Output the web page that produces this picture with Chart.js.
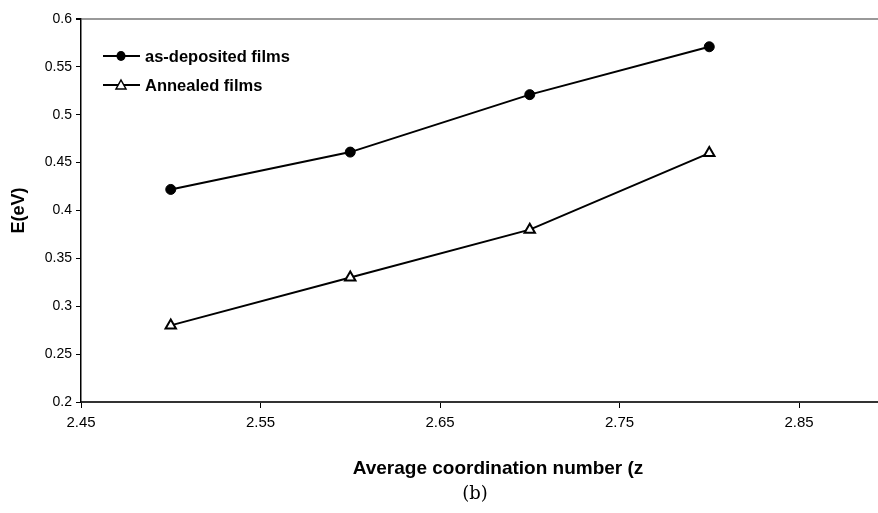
<!DOCTYPE html>
<html>
<head>
<meta charset="utf-8">
<script src="https://cdn.jsdelivr.net/npm/chart.js@4"></script>
<style>
html,body{margin:0;padding:0;background:#fff;}
#wrap{width:878px;height:513px;position:relative;}
</style>
</head>
<body>
<div id="wrap"><canvas id="c" width="878" height="513"></canvas></div>
<script>
const zValues = [2.5, 2.6, 2.7, 2.8];
const asDeposited = [0.422, 0.461, 0.521, 0.571];
const annealed = [0.28, 0.33, 0.38, 0.46];
const xTicks = [2.45, 2.55, 2.65, 2.75, 2.85];
const yTicks = [0.2, 0.25, 0.3, 0.35, 0.4, 0.45, 0.5, 0.55, 0.6];
const seriesNames = ['as-deposited films', 'Annealed films'];
const xTitle = 'Average coordination number (z';
const yTitle = 'E(eV)';
const caption = '(b)';

const toPts = (xs, ys) => xs.map((x, i) => ({x: x, y: ys[i]}));

const extraText = {
  id: 'extraText',
  afterDraw(chart) {
    const ctx = chart.ctx;
    ctx.save();
    const items = [
      {label: seriesNames[0], ds: chart.data.datasets[0], y: 56},
      {label: seriesNames[1], ds: chart.data.datasets[1], y: 85}
    ];
    items.forEach(it => {
      ctx.strokeStyle = '#000';
      ctx.lineWidth = 2;
      ctx.beginPath();
      ctx.moveTo(103, it.y);
      ctx.lineTo(140, it.y);
      ctx.stroke();
      ctx.lineWidth = 1.5;
      if (it.ds.pointStyle === 'circle') {
        ctx.fillStyle = '#000';
        ctx.beginPath();
        ctx.ellipse(121, it.y, 4.5, 5, 0, 0, Math.PI * 2);
        ctx.fill();
      } else {
        ctx.fillStyle = '#fff';
        ctx.beginPath();
        ctx.moveTo(121, it.y - 5);
        ctx.lineTo(126, it.y + 4);
        ctx.lineTo(116, it.y + 4);
        ctx.closePath();
        ctx.fill();
        ctx.stroke();
      }
      ctx.fillStyle = '#000';
      ctx.font = 'bold 16.5px "Liberation Sans", Arial, sans-serif';
      ctx.textAlign = 'left';
      ctx.textBaseline = 'middle';
      ctx.fillText(it.label, 145, it.y + 1);
    });
    ctx.font = 'bold 19px "Liberation Sans", Arial, sans-serif';
    ctx.textAlign = 'center';
    ctx.textBaseline = 'middle';
    ctx.fillText(xTitle, 498, 469);
    ctx.font = '18px "DejaVu Serif", serif';
    ctx.fillText(caption, 475, 494);
    ctx.restore();
  }
};

const isTop = ctx => ctx.tick && Math.abs(ctx.tick.value - 0.6) < 1e-9;

new Chart(document.getElementById('c'), {
  type: 'scatter',
  data: {
    datasets: [
      {
        label: seriesNames[0],
        data: toPts(zValues, asDeposited),
        showLine: true,
        borderColor: '#000',
        backgroundColor: '#000',
        borderWidth: 2,
        pointStyle: 'circle',
        pointRadius: 5,
        pointBorderWidth: 1,
        pointBackgroundColor: '#000',
        pointBorderColor: '#000'
      },
      {
        label: seriesNames[1],
        data: toPts(zValues, annealed),
        showLine: true,
        borderColor: '#000',
        backgroundColor: '#fff',
        borderWidth: 2,
        pointStyle: 'triangle',
        pointRadius: 6,
        pointBorderWidth: 2,
        pointBackgroundColor: '#fff',
        pointBorderColor: '#000'
      }
    ]
  },
  options: {
    responsive: false,
    animation: false,
    layout: {autoPadding: false, padding: {top: 19, right: 0, left: 0, bottom: 0}},
    plugins: {legend: {display: false}, tooltip: {enabled: false}},
    scales: {
      x: {
        type: 'linear',
        min: 2.45,
        max: 2.894,
        afterBuildTicks: s => { s.ticks = xTicks.map(v => ({value: v})); },
        afterFit: s => { s.height = 111; s.paddingRight = 0; s.paddingLeft = 0; },
        grid: {display: true, drawOnChartArea: false, drawTicks: true, tickLength: 6, color: '#000', tickColor: '#000', lineWidth: 1},
        border: {display: true, color: '#333', width: 2},
        ticks: {
          color: '#000',
          padding: 6,
          maxRotation: 0,
          font: {family: '"Liberation Sans", Arial, sans-serif', size: 15},
          callback: v => v.toFixed(2)
        }
      },
      y: {
        type: 'linear',
        min: 0.2,
        max: 0.6,
        afterBuildTicks: s => { s.ticks = yTicks.map(v => ({value: v})); },
        afterFit: s => { s.width = 81; },
        grid: {
          display: true,
          drawOnChartArea: true,
          drawTicks: true,
          tickLength: 5,
          color: ctx => isTop(ctx) ? '#999' : 'rgba(0,0,0,0)',
          tickColor: '#000',
          lineWidth: ctx => isTop(ctx) ? 2 : 1
        },
        border: {display: true, color: '#000', width: 1.5},
        title: {
          display: true,
          text: yTitle,
          color: '#000',
          padding: {top: 8, bottom: 0},
          font: {family: '"Liberation Sans", Arial, sans-serif', size: 18, weight: 'bold'}
        },
        ticks: {
          color: '#000',
          padding: 4,
          font: {family: '"Liberation Sans", Arial, sans-serif', size: 14},
          callback: v => String(Math.round(v * 100) / 100)
        }
      }
    }
  },
  plugins: [extraText]
});
</script>
</body>
</html>
